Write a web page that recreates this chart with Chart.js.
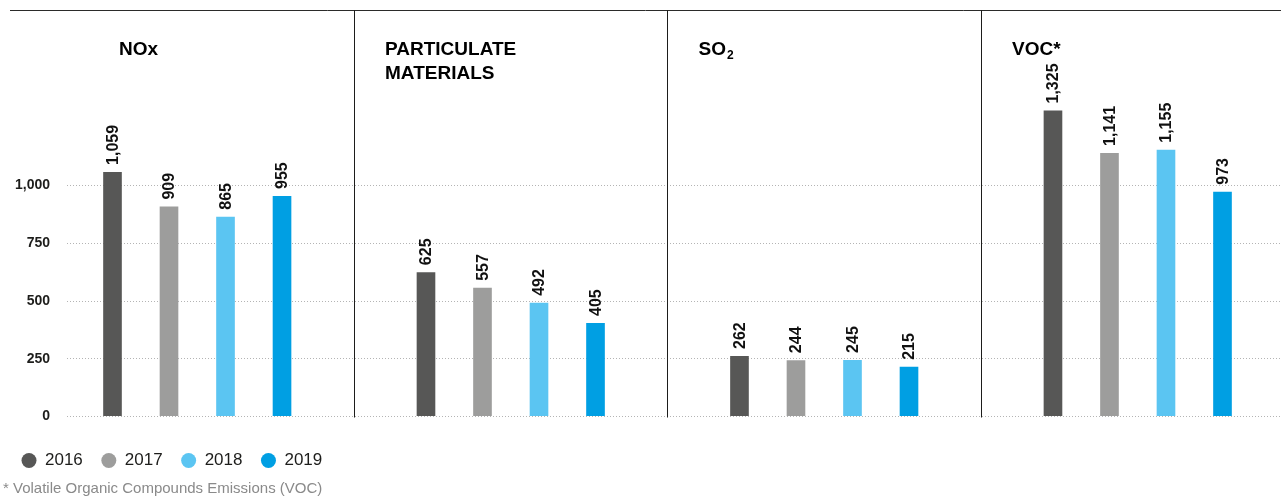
<!DOCTYPE html>
<html>
<head>
<meta charset="utf-8">
<title>Air emissions</title>
<script src="https://cdn.jsdelivr.net/npm/chart.js@4.4.1/dist/chart.umd.min.js"></script>
<style>
  html, body { margin: 0; padding: 0; background: #ffffff; overflow: hidden; }
  #wrap { width: 1281px; height: 496px; }
</style>
</head>
<body>
<div id="wrap"><canvas id="c" width="1281" height="496"></canvas></div>
<script>
// Pollutant groups, one panel each
const categories = ['NOx', 'PARTICULATE MATERIALS', 'SO₂', 'VOC*'];
const panelTitleLines = [['NOx'], ['PARTICULATE', 'MATERIALS'], ['SO₂'], ['VOC*']];

// Years (one bar per year inside each panel)
const years = ['2016', '2017', '2018', '2019'];

// Emissions per year, in category order
const values2016 = [1059, 625, 262, 1325];
const values2017 = [909, 557, 244, 1141];
const values2018 = [865, 492, 245, 1155];
const values2019 = [955, 405, 215, 973];

// Value-axis tick labels
const yTicks = [0, 250, 500, 750, 1000];

const footnote = '* Volatile Organic Compounds Emissions (VOC)';

const seriesValues = [values2016, values2017, values2018, values2019];
const seriesColors = ['#575756', '#9d9d9c', '#5bc5f2', '#009fe3'];

const FONT = "'Liberation Sans', Arial, Helvetica, sans-serif";
const INK = '#1d1d1b';
const fmt = v => v.toLocaleString('en-US');

Chart.defaults.font.family = FONT;
Chart.defaults.color = INK;

// Top rule, panel separators and panel titles
const panelsPlugin = {
  id: 'panels',
  beforeDatasetsDraw(chart) {
    const { ctx, chartArea: a, scales: { x } } = chart;
    ctx.save();
    ctx.strokeStyle = '#2b2b2a';
    ctx.lineWidth = 1;
    ctx.beginPath();
    ctx.moveTo(10, a.top + 0.5);
    ctx.lineTo(chart.width, a.top + 0.5);
    ctx.stroke();
    ctx.strokeStyle = INK;
    for (let i = 1; i < categories.length; i++) {
      const px = Math.round(x.getPixelForValue(i - 0.5)) + 0.5;
      ctx.beginPath();
      ctx.moveTo(px, a.top);
      ctx.lineTo(px, a.bottom + 1);
      ctx.stroke();
    }
    ctx.restore();
  },
  afterDraw(chart) {
    const { ctx, chartArea: a, scales: { x } } = chart;
    ctx.save();
    ctx.fillStyle = '#000000';
    ctx.textAlign = 'left';
    ctx.textBaseline = 'alphabetic';
    panelTitleLines.forEach((lines, i) => {
      const left = (i === 0 ? a.left + 21 : x.getPixelForValue(i - 0.5)) + 31;
      lines.forEach((line, j) => {
        const base = 55 + j * 24;
        const parts = line.split('₂');
        ctx.font = 'bold 19px ' + FONT;
        ctx.fillText(parts[0], left, base);
        if (parts.length > 1) {
          const w = ctx.measureText(parts[0]).width;
          ctx.font = 'bold 12px ' + FONT;
          ctx.fillText('2', left + w + 1, base + 4);
        }
      });
    });
    ctx.restore();
  }
};

// Rotated value labels above each bar
const valueLabels = {
  id: 'valueLabels',
  afterDatasetsDraw(chart) {
    const { ctx } = chart;
    ctx.save();
    ctx.font = 'bold 16px ' + FONT;
    ctx.fillStyle = '#111111';
    ctx.textAlign = 'left';
    ctx.textBaseline = 'middle';
    chart.data.datasets.forEach((ds, di) => {
      chart.getDatasetMeta(di).data.forEach((el, i) => {
        ctx.save();
        ctx.translate(el.x + 1, el.y - 7);
        ctx.rotate(-Math.PI / 2);
        ctx.fillText(fmt(ds.data[i].y), 0, 0);
        ctx.restore();
      });
    });
    ctx.restore();
  }
};

new Chart(document.getElementById('c'), {
  type: 'bar',
  data: {
    datasets: years.map((yr, s) => ({
      label: yr,
      data: seriesValues[s].map((v, i) => ({ x: i, y: v })),
      backgroundColor: seriesColors[s],
      borderWidth: 0,
      categoryPercentage: 0.721,
      barPercentage: 0.33
    }))
  },
  options: {
    responsive: false,
    animation: false,
    events: [],
    layout: { padding: { top: 10, left: 3, right: 0, bottom: 0 } },
    scales: {
      x: {
        type: 'linear',
        min: -0.4155,
        max: 3.457,
        offset: false,
        afterBuildTicks(s) { s.ticks = categories.map((c, i) => ({ value: i })); },
        grid: { display: false },
        border: { display: false },
        ticks: { display: false },
        afterFit(s) { s.height = 17; s.paddingLeft = 0; s.paddingRight = 0; }
      },
      y: {
        min: 0,
        max: 1760,
        afterBuildTicks(s) { s.ticks = yTicks.map(v => ({ value: v })); },
        afterFit(s) { s.width = 64; s.paddingTop = 0; s.paddingBottom = 0; },
        grid: { color: '#b4b4b4', lineWidth: 1, drawTicks: false },
        border: { display: false, dash: [1, 2] },
        ticks: {
          padding: 17,
          color: INK,
          font: { size: 14, weight: 'bold' },
          callback: v => fmt(v)
        }
      }
    },
    plugins: {
      legend: {
        position: 'bottom',
        align: 'start',
        labels: {
          usePointStyle: true,
          pointStyle: 'circle',
          boxHeight: 10.6,
          pointStyleWidth: 15,
          padding: 18.5,
          color: INK,
          font: { size: 17 }
        }
      },
      subtitle: {
        display: true,
        position: 'bottom',
        align: 'start',
        text: footnote,
        color: '#8a8a8a',
        font: { size: 15, weight: 'normal', lineHeight: 1.0 },
        padding: { top: 2, bottom: 0 }
      },
      tooltip: { enabled: false }
    }
  },
  plugins: [panelsPlugin, valueLabels]
});
</script>
</body>
</html>
